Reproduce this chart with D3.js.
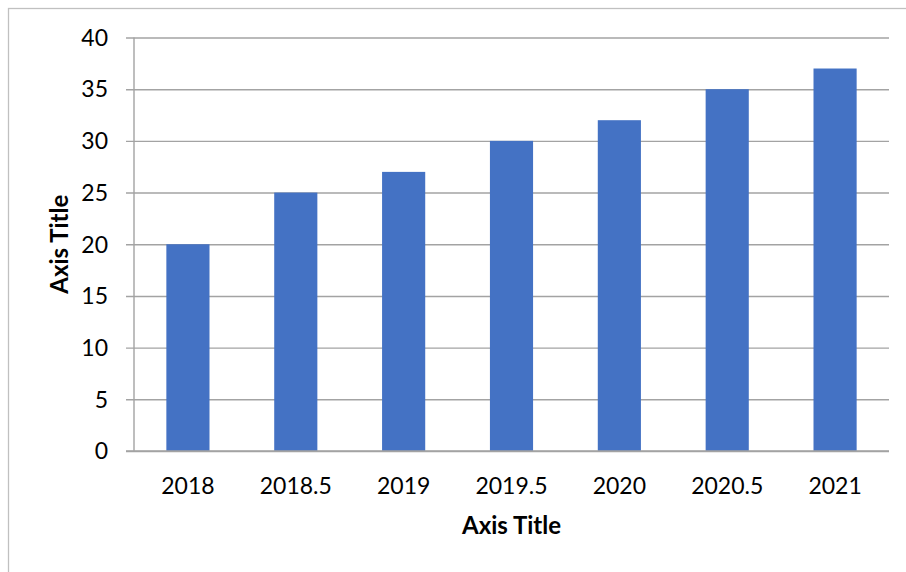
<!DOCTYPE html>
<html>
<head>
<meta charset="utf-8">
<script src="https://cdn.jsdelivr.net/npm/d3@7"></script>
<style>
  html, body { margin: 0; padding: 0; background: #fff; }
  svg { display: block; }
</style>
</head>
<body>
<svg id="chart" width="906" height="572"></svg>
<script>
// Category labels along the x axis
const categories = ["2018", "2018.5", "2019", "2019.5", "2020", "2020.5", "2021"];
// Bar values, one per category
const values = [20, 25, 27, 30, 32, 35, 37];
// Value axis ticks
const yTicks = [0, 5, 10, 15, 20, 25, 30, 35, 40];
const xAxisTitle = "Axis Title";
const yAxisTitle = "Axis Title";

const W = 906, H = 572;
const plot = { left: 134, right: 889, top: 37.5, bottom: 451 };
const fontFamily = "Lato, 'Open Sans', sans-serif";
const gridColor = "#a3a3a3";
const barColor = "#4472C4";

const svg = d3.select("#chart");

// Chart-area border (only top and left edges fall inside the view)
svg.append("rect")
  .attr("x", 8.5).attr("y", 8.5)
  .attr("width", W + 20).attr("height", H + 20)
  .attr("fill", "#fff")
  .attr("stroke", "#c0c0c0")
  .attr("stroke-width", 1.3);

const x = d3.scaleBand()
  .domain(categories)
  .range([plot.left, plot.right])
  .paddingInner(0.6)
  .paddingOuter(0.3);

const y = d3.scaleLinear()
  .domain([0, 40])
  .range([plot.bottom, plot.top]);

// Horizontal gridlines with short tick stubs left of the axis
const yAxis = d3.axisLeft(y)
  .tickValues(yTicks)
  .tickSize(-(plot.right - plot.left))
  .tickSizeOuter(0)
  .tickPadding(0)
  .tickFormat("");

const gy = svg.append("g")
  .attr("transform", `translate(${plot.left},0)`)
  .call(yAxis);
gy.select(".domain").remove();
gy.selectAll(".tick line")
  .attr("stroke", gridColor)
  .attr("stroke-width", 1.4)
  .attr("x1", -8);

// Vertical value axis line
svg.append("line")
  .attr("x1", plot.left).attr("x2", plot.left)
  .attr("y1", y(40)).attr("y2", y(0))
  .attr("stroke", gridColor)
  .attr("stroke-width", 1.4);

// Y tick labels
svg.append("g").selectAll("text")
  .data(yTicks)
  .join("text")
  .attr("x", 108)
  .attr("y", d => y(d))
  .attr("dy", "0.36em")
  .attr("text-anchor", "end")
  .attr("font-family", fontFamily)
  .attr("font-size", 23)
  .attr("fill", "#000")
  .text(d => d);

// Bars
svg.append("g").selectAll("rect")
  .data(values)
  .join("rect")
  .attr("x", (d, i) => x(categories[i]))
  .attr("width", x.bandwidth())
  .attr("y", d => y(d))
  .attr("height", d => y(0) - y(d))
  .attr("fill", barColor);

// Redraw the zero line over the bar bottoms
svg.append("line")
  .attr("x1", plot.left - 8).attr("x2", plot.right)
  .attr("y1", y(0)).attr("y2", y(0))
  .attr("stroke", gridColor)
  .attr("stroke-width", 1.4);

// X category labels
svg.append("g").selectAll("text")
  .data(categories)
  .join("text")
  .attr("x", d => x(d) + x.bandwidth() / 2)
  .attr("y", 494)
  .attr("text-anchor", "middle")
  .attr("font-family", fontFamily)
  .attr("font-size", 23)
  .attr("fill", "#000")
  .text(d => d);

// Axis titles
svg.append("text")
  .attr("x", (plot.left + plot.right) / 2)
  .attr("y", 534)
  .attr("text-anchor", "middle")
  .attr("font-family", fontFamily)
  .attr("font-weight", "bold")
  .attr("font-size", 24)
  .attr("fill", "#000")
  .text(xAxisTitle);

svg.append("text")
  .attr("transform", `translate(68, ${(plot.top + plot.bottom) / 2}) rotate(-90)`)
  .attr("text-anchor", "middle")
  .attr("font-family", fontFamily)
  .attr("font-weight", "bold")
  .attr("font-size", 24)
  .attr("fill", "#000")
  .text(yAxisTitle);
</script>
</body>
</html>
